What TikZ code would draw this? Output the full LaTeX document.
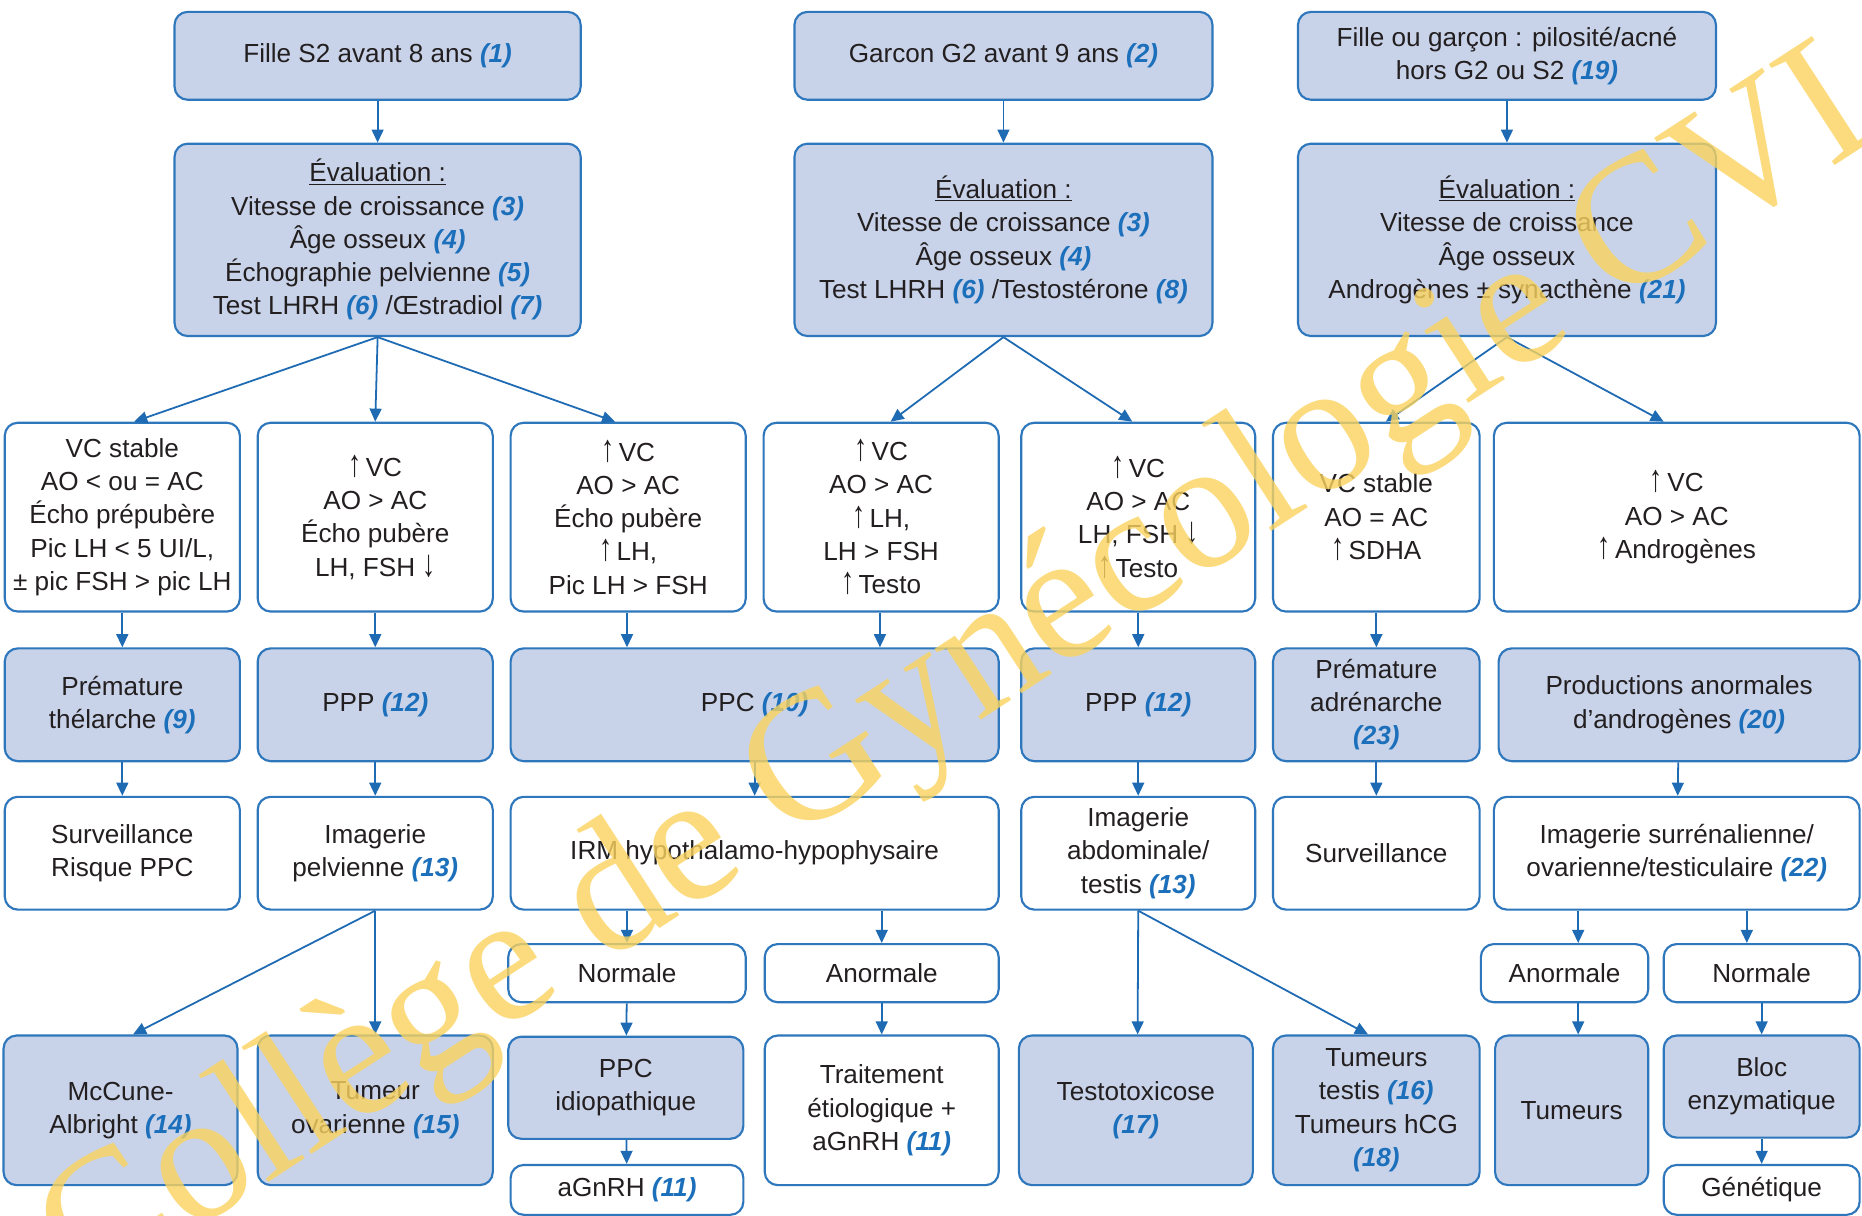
\documentclass[tikz,border=0pt]{standalone}
\usepackage{fontspec}
\usepackage{graphicx}
\setmainfont{Liberation Sans}
\newfontfamily\wmfont{Liberation Serif}
\usetikzlibrary{arrows.meta}
\definecolor{bordblue}{HTML}{2E77BC}
\definecolor{fillblue}{HTML}{C8D3E9}
\definecolor{arrblue}{HTML}{1F6BB3}
\definecolor{numblue}{HTML}{1C6FBA}
\definecolor{txt}{HTML}{231F20}
\definecolor{wm}{HTML}{FAD35E}
\newcommand{\nb}[1]{{\color{numblue}\bfseries\itshape(#1)}}
\newcommand{\up}{\scalebox{1}[1.45]{↑}}
\newcommand{\dn}{\scalebox{1}[1.45]{↓}}
\newcommand{\mkbox}[7]{\node[#6, minimum width={(#4-#2)*1pt}, minimum height={(#5-#3)*1pt}] (#1) at ({(#2+#4)/2},{(#3+#5)/2}) {#7};}
\tikzset{
  base/.style={draw=bordblue, line width=1.8pt, rounded corners=11pt, align=center, inner sep=0pt, font=\fontsize{22}{28}\selectfont, text=txt},
  bluebox/.style={base, fill=fillblue},
  whitebox/.style={base, fill=white},
  arr/.style={draw=arrblue, line width=1.5pt, -{Triangle[width=10pt,length=11pt]}}
}
\begin{document}
\begin{tikzpicture}[x=1pt,y=-1pt]
\useasboundingbox[fill=white] (0,0) rectangle (1568,1024);
% row 1
\mkbox{b1}{147}{10}{489}{84}{bluebox}{Fille S2 avant 8 ans \nb{1}}
\mkbox{b2}{669}{10}{1021}{84}{bluebox}{Garcon G2 avant 9 ans \nb{2}}
\mkbox{b3}{1093}{10}{1445}{84}{bluebox}{Fille ou garçon : pilosité/acné\\hors G2 ou S2 \nb{19}}
% row 2
\mkbox{e1}{147}{121}{489}{283}{bluebox}{\underline{Évaluation :}\\Vitesse de croissance \nb{3}\\Âge osseux \nb{4}\\Échographie pelvienne \nb{5}\\Test LHRH \nb{6} /Œstradiol \nb{7}}
\mkbox{e2}{669}{121}{1021}{283}{bluebox}{\underline{Évaluation :}\\Vitesse de croissance \nb{3}\\Âge osseux \nb{4}\\Test LHRH \nb{6} /Testostérone \nb{8}}
\mkbox{e3}{1093}{121}{1445}{283}{bluebox}{\underline{Évaluation :}\\Vitesse de croissance\\Âge osseux\\Androgènes ± synacthène \nb{21}}
% row 3
\mkbox{ra}{4}{356}{202}{515}{whitebox}{VC stable\\AO < ou = AC\\Écho prépubère\\Pic LH < 5 UI/L,\\± pic FSH > pic LH}
\mkbox{rb}{217}{356}{415}{515}{whitebox}{\up\,VC\\AO > AC\\Écho pubère\\LH, FSH \dn}
\mkbox{rc}{430}{356}{628}{515}{whitebox}{\up\,VC\\AO > AC\\Écho pubère\\\up\,LH,\\Pic LH > FSH}
\mkbox{rd}{643}{356}{841}{515}{whitebox}{\up\,VC\\AO > AC\\\up\,LH,\\LH > FSH\\\up\,Testo}
\mkbox{re}{860}{356}{1057}{515}{whitebox}{\up\,VC\\AO > AC\\LH, FSH \dn\\\up\,Testo}
\mkbox{rf}{1072}{356}{1246}{515}{whitebox}{VC stable\\AO = AC\\\up\,SDHA}
\mkbox{rg}{1258}{356}{1566}{515}{whitebox}{\up\,VC\\AO > AC\\\up\,Androgènes}
% row 4
\mkbox{thel}{4}{546}{202}{641}{bluebox}{Prémature\\thélarche \nb{9}}
\mkbox{pppa}{217}{546}{415}{641}{bluebox}{PPP \nb{12}}
\mkbox{ppc}{430}{546}{841}{641}{bluebox}{PPC \nb{10}}
\mkbox{pppb}{860}{546}{1057}{641}{bluebox}{PPP \nb{12}}
\mkbox{adr}{1072}{546}{1246}{641}{bluebox}{Prémature\\adrénarche\\\nb{23}}
\mkbox{prod}{1262}{546}{1566}{641}{bluebox}{Productions anormales\\d’androgènes \nb{20}}
% row 5
\mkbox{surva}{4}{671}{202}{766}{whitebox}{Surveillance\\Risque PPC}
\mkbox{imgp}{217}{671}{415}{766}{whitebox}{Imagerie\\pelvienne \nb{13}}
\mkbox{irm}{430}{671}{841}{766}{whitebox}{IRM hypothalamo-hypophysaire}
\mkbox{imga}{860}{671}{1057}{766}{whitebox}{Imagerie\\abdominale/\\testis \nb{13}}
\mkbox{survb}{1072}{671}{1246}{766}{whitebox}{Surveillance}
\mkbox{imgs}{1258}{671}{1566}{766}{whitebox}{Imagerie surrénalienne/\\ovarienne/testiculaire \nb{22}}
% row 6
\mkbox{norma}{428}{795}{628}{844}{whitebox}{Normale}
\mkbox{anorma}{644}{795}{841}{844}{whitebox}{Anormale}
\mkbox{anormb}{1247}{795}{1388}{844}{whitebox}{Anormale}
\mkbox{normb}{1401}{795}{1566}{844}{whitebox}{Normale}
% row 7
\mkbox{mcc}{3}{872}{200}{998}{bluebox}{McCune-\\Albright \nb{14}}
\mkbox{tumov}{217}{872}{415}{998}{bluebox}{Tumeur\\ovarienne \nb{15}}
\mkbox{ppci}{428}{873}{626}{959}{bluebox}{PPC\\idiopathique}
\mkbox{agn}{430}{981}{626}{1023}{whitebox}{aGnRH \nb{11}}
\mkbox{trait}{644}{872}{841}{998}{whitebox}{Traitement\\étiologique +\\aGnRH \nb{11}}
\mkbox{testo}{858}{872}{1055}{998}{bluebox}{Testotoxicose\\\nb{17}}
\mkbox{tumt}{1072}{872}{1246}{998}{bluebox}{Tumeurs\\testis \nb{16}\\Tumeurs hCG\\\nb{18}}
\mkbox{tum}{1259}{872}{1388}{998}{bluebox}{Tumeurs}
\mkbox{bloc}{1401}{872}{1566}{958}{bluebox}{Bloc\\enzymatique}
\mkbox{gen}{1401}{981}{1566}{1023}{whitebox}{Génétique}
% connectors
\draw[arr] (b1) -- (e1);
\draw[arr] (b2) -- (e2);
\draw[arr] (b3) -- (e3);
\draw[arr] (e1.south) -- ([xshift=10pt]ra.north);
\draw[arr] (e1.south) -- (rb.north);
\draw[arr] (e1.south) -- ([xshift=-11pt]rc.north);
\draw[arr] (e2.south) -- ([xshift=8pt]rd.north);
\draw[arr] (e2.south) -- ([xshift=-5pt]re.north);
\draw[arr] (e3.south) -- ([xshift=8pt]rf.north);
\draw[arr] (e3.south) -- ([xshift=-11pt]rg.north);
\draw[arr] (ra) -- (thel);
\draw[arr] (rb) -- (pppa);
\draw[arr] ([xshift=-1pt]rc.south) -- ([xshift=-107.5pt]ppc.north);
\draw[arr] ([xshift=-1pt]rd.south) -- ([xshift=105.5pt]ppc.north);
\draw[arr] (re) -- (pppb);
\draw[arr] (rf) -- (adr);
\draw[arr] (thel) -- (surva);
\draw[arr] (pppa) -- (imgp);
\draw[arr] (ppc) -- (irm);
\draw[arr] (pppb) -- (imga);
\draw[arr] (adr) -- (survb);
\draw[arr] (prod) -- (imgs);
\draw[arr] (imgp.south) -- ([xshift=10.5pt]mcc.north);
\draw[arr] (imgp.south) -- (tumov.north);
\draw[arr] ([xshift=-107.5pt]irm.south) -- (norma.north);
\draw[arr] ([xshift=107pt]irm.south) -- (anorma.north);
\draw[arr] (norma) -- (ppci);
\draw[arr] (ppci) -- (agn);
\draw[arr] (anorma) -- (trait);
\draw[arr] (imga.south) -- ([xshift=1.5pt]testo.north);
\draw[arr] (imga.south) -- ([xshift=-7pt]tumt.north);
\draw[arr] ([xshift=-83pt]imgs.south) -- ([xshift=11.5pt]anormb.north);
\draw[arr] ([xshift=59pt]imgs.south) -- ([xshift=-12.5pt]normb.north);
\draw[arr] ([xshift=11.5pt]anormb.south) -- ([xshift=5.5pt]tum.north);
\draw[arr] (normb) -- (bloc);
\draw[arr] (bloc) -- (gen);
% watermark
\node[rotate=33, text=wm, opacity=0.8, font=\wmfont\fontsize{155}{155}\selectfont, inner sep=0pt] (wmk) at (826,562) {Collège de Gynécologie CVL};
\end{tikzpicture}
\end{document}
